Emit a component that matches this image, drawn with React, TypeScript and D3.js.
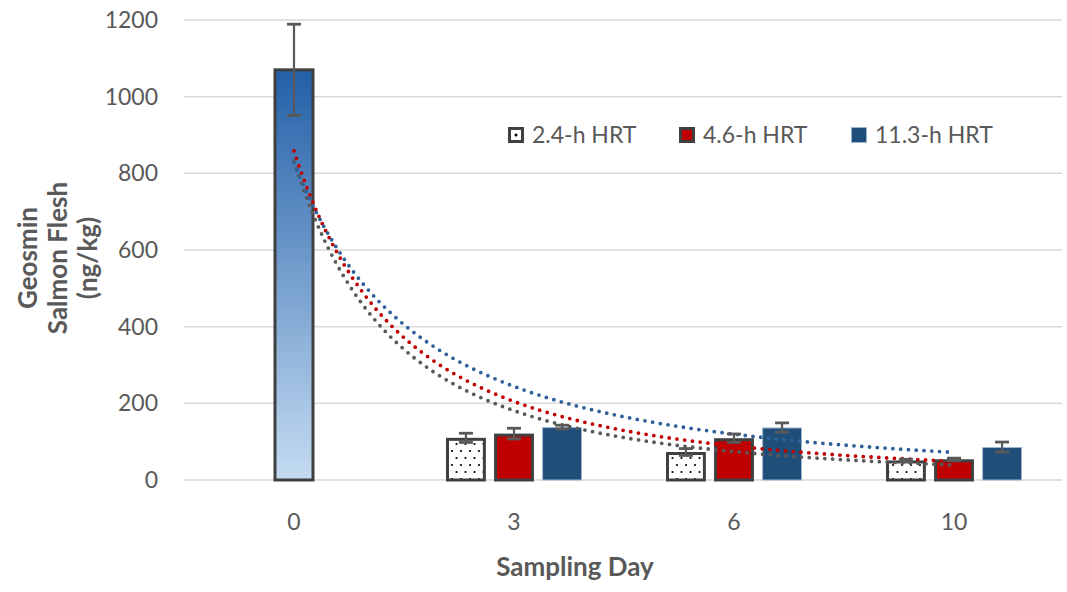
import React from 'react';
import * as d3 from 'd3';

// sampling days (category labels)
const days = ['0', '3', '6', '10'];

// day 0 (common starting value for all systems)
const day0Value = 1070;
const day0Error = 119;

// series for days 3, 6 and 10
const seriesNames = ['2.4-h HRT', '4.6-h HRT', '11.3-h HRT'];
const hrt24 = [110, 73, 51];
const hrt24Err = [12, 9, 3];
const hrt46 = [121, 109, 54];
const hrt46Err = [14, 11, 3];
const hrt113 = [138, 137, 86];
const hrt113Err = [5, 12, 13];

const yTicks = [0, 200, 400, 600, 800, 1000, 1200];

const width = 1067;
const height = 592;
const textColor = '#595959';
const font = 'Lato, "Open Sans", sans-serif';

const seriesStyle = [
  { fill: 'url(#dots)', stroke: '#404040', sw: 3, trend: '#595959' },
  { fill: '#c00000', stroke: '#404040', sw: 3, trend: '#c00000' },
  { fill: '#1f4e79', stroke: '#9db4cf', sw: 1, trend: '#2e6099' },
];

// Excel style power trendline: ln y = a + b ln x, x = 1..n
const powerFit = (vals: number[]) => {
  const xs = vals.map((_, i) => Math.log(i + 1));
  const ys = vals.map((v) => Math.log(v));
  const mx = d3.mean(xs) as number;
  const my = d3.mean(ys) as number;
  const b = d3.sum(xs, (x, i) => (x - mx) * (ys[i] - my)) / d3.sum(xs, (x) => (x - mx) ** 2);
  const a = my - b * mx;
  return (x: number) => Math.exp(a) * Math.pow(x, b);
};

const App = () => {
  const series = [
    { name: seriesNames[0], values: hrt24, errs: hrt24Err },
    { name: seriesNames[1], values: hrt46, errs: hrt46Err },
    { name: seriesNames[2], values: hrt113, errs: hrt113Err },
  ];

  const x = d3.scaleBand().domain(days).range([184, 1064]).padding(0);
  const sub = d3
    .scaleBand()
    .domain(seriesNames)
    .range([-68, 68])
    .paddingInner(0.17)
    .paddingOuter(0);
  const y = d3.scaleLinear().domain([0, 1200]).range([480, 20]);

  const center = (d: string) => (x(d) as number) + x.bandwidth() / 2;
  const trendX = d3
    .scaleLinear()
    .domain([1, days.length])
    .range([center(days[0]), center(days[days.length - 1])]);

  const line = d3.line<number>().x((d) => trendX(d));

  const errBar = (cx: number, v: number, e: number, key: string) => (
    <g key={key} stroke="#595959" strokeWidth={2.2}>
      <line x1={cx} x2={cx} y1={y(v + e)} y2={y(v - e)} />
      <line x1={cx - 7} x2={cx + 7} y1={y(v + e)} y2={y(v + e)} strokeWidth={2.8} />
      <line x1={cx - 7} x2={cx + 7} y1={y(v - e)} y2={y(v - e)} strokeWidth={2.8} />
    </g>
  );

  const bw = sub.bandwidth();
  const legendX = [508, 679, 851];

  return (
    <svg width={width} height={height} style={{ position: 'absolute', left: 0, top: 0 }} fontFamily={font}>
      <defs>
        <pattern id="dots" width="9" height="14" patternUnits="userSpaceOnUse">
          <rect width="9" height="14" fill="#fff" />
          <circle cx="2" cy="3" r="1.1" fill="#000" />
          <circle cx="6.5" cy="10" r="1.1" fill="#000" />
        </pattern>
        <linearGradient id="day0grad" x1="0" y1="0" x2="0" y2="1">
          <stop offset="0" stopColor="#2360a8" />
          <stop offset="1" stopColor="#c5dcf2" />
        </linearGradient>
      </defs>

      {/* gridlines */}
      {yTicks.map((t) => (
        <line key={t} x1={184} x2={1062} y1={y(t)} y2={y(t)} stroke="#d9d9d9" strokeWidth={1.5} />
      ))}
      {yTicks.map((t) => (
        <text key={'l' + t} x={158} y={y(t) + 8} textAnchor="end" fontSize={23} fill={textColor}>
          {t}
        </text>
      ))}

      {/* day 0 bar */}
      <rect
        x={center(days[0]) - 19}
        y={y(day0Value)}
        width={38}
        height={y(0) - y(day0Value)}
        fill="url(#day0grad)"
        stroke="#404040"
        strokeWidth={3}
      />

      {/* grouped bars */}
      {series.map((s, si) =>
        s.values.map((v, i) => {
          const cx = center(days[i + 1]) + (sub(s.name) as number);
          const st = seriesStyle[si];
          return (
            <rect
              key={s.name + i}
              x={cx + st.sw / 2}
              y={y(v) + st.sw / 2}
              width={bw - st.sw}
              height={y(0) - y(v) - st.sw / 2}
              fill={st.fill}
              stroke={st.stroke}
              strokeWidth={st.sw}
            />
          );
        })
      )}

      {/* trendlines */}
      {series.map((s, si) => {
        const f = powerFit([day0Value, ...s.values]);
        const pts = d3.range(1, days.length + 0.001, 0.02);
        return (
          <path
            key={'t' + s.name}
            d={line.y((d) => y(f(d)))(pts) as string}
            fill="none"
            stroke={seriesStyle[si].trend}
            strokeWidth={3.8}
            strokeDasharray="0 7.8"
            strokeLinecap="round"
          />
        );
      })}

      {/* error bars */}
      {errBar(center(days[0]), day0Value, day0Error, 'e0')}
      {series.map((s) =>
        s.values.map((v, i) =>
          errBar(center(days[i + 1]) + (sub(s.name) as number) + bw / 2, v, s.errs[i], s.name + 'e' + i)
        )
      )}

      {/* x axis labels */}
      {days.map((d) => (
        <text key={d} x={center(d)} y={530} textAnchor="middle" fontSize={23} fill={textColor}>
          {d}
        </text>
      ))}
      <text x={575} y={576} textAnchor="middle" fontSize={26} fontWeight="bold" fill={textColor}>
        Sampling Day
      </text>

      {/* y axis title */}
      <g transform="translate(0,258)" fontSize={26} fontWeight="bold" fill={textColor} textAnchor="middle">
        {['Geosmin', 'Salmon Flesh', '(ng/kg)'].map((l, i) => (
          <text key={l} transform={`translate(${37 + i * 30},0) rotate(-90)`}>
            {l}
          </text>
        ))}
      </g>

      {/* legend */}
      {series.map((s, si) => {
        const st = seriesStyle[si];
        const lx = legendX[si];
        return (
          <g key={'lg' + s.name}>
            {si === 0 ? (
              <g>
                <rect x={lx + 1.5} y={128.5} width={13} height={13} fill="#fff" stroke="#404040" strokeWidth={3} />
                <circle cx={lx + 8} cy={135} r={1.5} fill="#000" />
              </g>
            ) : (
              <rect
                x={lx + st.sw / 2}
                y={127 + st.sw / 2}
                width={16 - st.sw}
                height={16 - st.sw}
                fill={st.fill}
                stroke={st.stroke}
                strokeWidth={st.sw}
              />
            )}
            <text x={lx + 24} y={143} fontSize={23} fill={textColor}>
              {s.name}
            </text>
          </g>
        );
      })}
    </svg>
  );
};

export default App;
